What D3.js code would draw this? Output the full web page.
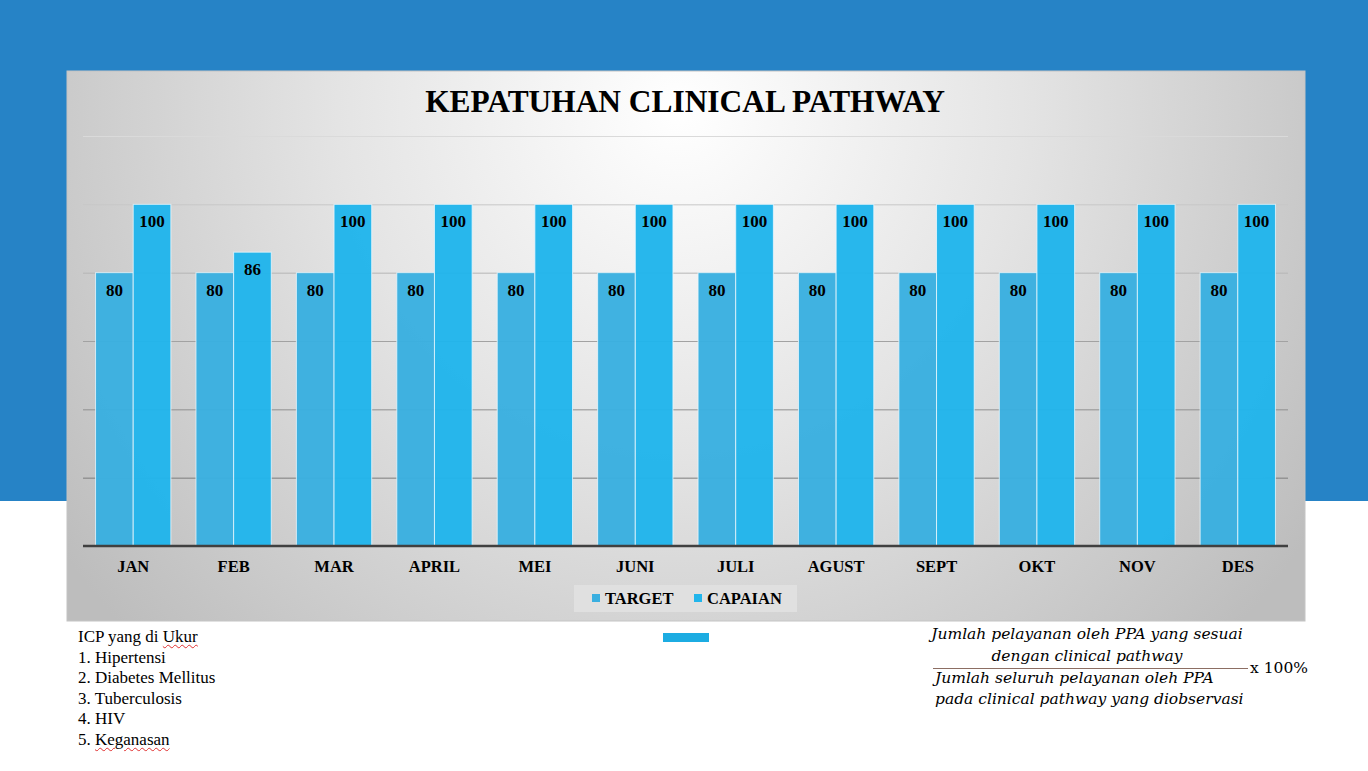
<!DOCTYPE html>
<html lang="en">
<head>
    <meta charset="UTF-8">
    <title>Kepatuhan Clinical Pathway</title>
    <script src="https://d3js.org/d3.v7.min.js"></script>
    <style>
        html, body { margin: 0; padding: 0; background: #fff; }
        body { width: 1368px; height: 771px; position: relative; overflow: hidden; }
        svg { position: absolute; left: 0; top: 0; }
        .serif { font-family: "Liberation Serif", "Times New Roman", serif; }
        .icp {
            position: absolute;
            left: 78px;
            top: 627px;
            font-family: "Liberation Serif", "Times New Roman", serif;
            font-size: 17px;
            line-height: 20.5px;
            color: #000;
        }
        .wavy {
            text-decoration: underline wavy #e03030;
            text-decoration-thickness: 1px;
            text-underline-offset: 2px;
        }
    </style>
</head>
<body>
    <div class="icp">
        ICP yang di <span class="wavy">Ukur</span><br>
        1. Hipertensi<br>
        2. Diabetes Mellitus<br>
        3. Tuberculosis<br>
        4. HIV<br>
        5. <span class="wavy">Keganasan</span>
    </div>
    <script>
        const width = 1368;
        const height = 771;

        // data
        const months = ["JAN", "FEB", "MAR", "APRIL", "MEI", "JUNI", "JULI", "AGUST", "SEPT", "OKT", "NOV", "DES"];
        const target = [80, 80, 80, 80, 80, 80, 80, 80, 80, 80, 80, 80];
        const capaian = [100, 86, 100, 100, 100, 100, 100, 100, 100, 100, 100, 100];
        const seriesNames = ["TARGET", "CAPAIAN"];
        const yTicks = [20, 40, 60, 80, 100, 120];

        const numerator = ["Jumlah pelayanan oleh PPA yang sesuai", "dengan clinical pathway"];
        const denominator = ["Jumlah seluruh pelayanan oleh PPA", "pada clinical pathway yang diobservasi"];

        const svg = d3.select("body").insert("svg", ":first-child")
            .attr("width", width)
            .attr("height", height);

        const defs = svg.append("defs");
        const grad = defs.append("radialGradient")
            .attr("id", "panelGrad")
            .attr("gradientUnits", "userSpaceOnUse")
            .attr("cx", 680).attr("cy", 110).attr("r", 760);
        grad.append("stop").attr("offset", "0%").attr("stop-color", "#ffffff");
        grad.append("stop").attr("offset", "45%").attr("stop-color", "#e4e4e4");
        grad.append("stop").attr("offset", "100%").attr("stop-color", "#bdbdbd");

        // blue slide background
        svg.append("rect")
            .attr("x", 0).attr("y", 0)
            .attr("width", width).attr("height", 501)
            .attr("fill", "#2683c6");

        // chart panel
        const panel = { x: 67, y: 71, w: 1238, h: 550 };
        svg.append("rect")
            .attr("x", panel.x).attr("y", panel.y)
            .attr("width", panel.w).attr("height", panel.h)
            .attr("fill", "url(#panelGrad)")
            .attr("stroke", "#c4c4c4")
            .attr("stroke-width", 1);

        const plot = { left: 83, right: 1288, top: 136, bottom: 546 };

        const x0 = d3.scaleBand()
            .domain(months)
            .range([plot.left, plot.right])
            .paddingInner(0.25)
            .paddingOuter(0.125);

        const x1 = d3.scaleBand()
            .domain(seriesNames)
            .range([0, x0.bandwidth()])
            .padding(0);

        const y = d3.scaleLinear()
            .domain([0, 120])
            .range([plot.bottom, plot.top]);

        const color = d3.scaleOrdinal()
            .domain(seriesNames)
            .range(["#3aafe0", "#21b5eb"]);

        const gridColor = d3.scaleLinear()
            .domain([20, 120])
            .range(["#7d7d7d", "#dadada"]);

        // gridlines
        svg.append("g")
            .selectAll("line")
            .data(yTicks)
            .join("line")
            .attr("x1", plot.left).attr("x2", plot.right)
            .attr("y1", d => y(d) + 0.5).attr("y2", d => y(d) + 0.5)
            .attr("stroke", d => gridColor(d))
            .attr("stroke-width", 1);

        // title
        svg.append("text")
            .attr("class", "serif")
            .attr("x", 685).attr("y", 112)
            .attr("text-anchor", "middle")
            .attr("font-size", 31.4)
            .attr("font-weight", "bold")
            .text("KEPATUHAN CLINICAL PATHWAY");

        const rows = months.map((m, i) => ({
            month: m,
            values: [
                { key: "TARGET", value: target[i] },
                { key: "CAPAIAN", value: capaian[i] }
            ]
        }));

        const groups = svg.append("g")
            .selectAll("g")
            .data(rows)
            .join("g")
            .attr("transform", d => `translate(${x0(d.month)},0)`);

        groups.selectAll("rect")
            .data(d => d.values)
            .join("rect")
            .attr("x", d => x1(d.key))
            .attr("y", d => y(d.value))
            .attr("width", x1.bandwidth())
            .attr("height", d => y(0) - y(d.value))
            .attr("fill", d => color(d.key))
            .attr("fill-opacity", 0.97)
            .attr("stroke", "#e8f6fc")
            .attr("stroke-opacity", 0.8)
            .attr("stroke-width", 1);

        groups.selectAll("text")
            .data(d => d.values)
            .join("text")
            .attr("class", "serif")
            .attr("x", d => x1(d.key) + x1.bandwidth() / 2)
            .attr("y", d => y(d.value) + 23)
            .attr("text-anchor", "middle")
            .attr("font-size", 17)
            .attr("font-weight", "bold")
            .attr("fill", "#000")
            .text(d => d.value);

        // baseline
        svg.append("line")
            .attr("x1", plot.left).attr("x2", plot.right)
            .attr("y1", y(0)).attr("y2", y(0))
            .attr("stroke", "#404040")
            .attr("stroke-width", 2.5);

        // x labels
        svg.append("g")
            .selectAll("text")
            .data(months)
            .join("text")
            .attr("class", "serif")
            .attr("x", d => x0(d) + x0.bandwidth() / 2)
            .attr("y", 572)
            .attr("text-anchor", "middle")
            .attr("font-size", 16.5)
            .attr("font-weight", "bold")
            .text(d => d);

        // legend
        const legend = svg.append("g");
        legend.append("rect")
            .attr("x", 574).attr("y", 585)
            .attr("width", 223).attr("height", 27)
            .attr("fill", "#e2e2e2")
            .attr("fill-opacity", 0.85);
        const legendX = [592, 694];
        seriesNames.forEach((s, i) => {
            legend.append("rect")
                .attr("x", legendX[i]).attr("y", 594)
                .attr("width", 8).attr("height", 8)
                .attr("fill", color(s));
            legend.append("text")
                .attr("class", "serif")
                .attr("x", legendX[i] + 13).attr("y", 604)
                .attr("font-size", 16.5)
                .attr("font-weight", "bold")
                .text(s);
        });

        // small blue strip under chart
        svg.append("rect")
            .attr("x", 663).attr("y", 633)
            .attr("width", 46).attr("height", 9)
            .attr("fill", "#1cace2");

        // formula
        const f = svg.append("g")
            .attr("font-family", "'DejaVu Serif', serif")
            .attr("font-style", "italic")
            .attr("font-size", 15.5);
        f.append("text")
            .attr("x", 1087).attr("y", 639)
            .attr("text-anchor", "middle")
            .text(numerator[0]);
        f.append("text")
            .attr("x", 1087).attr("y", 661)
            .attr("text-anchor", "middle")
            .text(numerator[1]);
        f.append("text")
            .attr("x", 935).attr("y", 683)
            .text(denominator[0]);
        f.append("text")
            .attr("x", 935).attr("y", 704)
            .text(denominator[1]);
        svg.append("line")
            .attr("x1", 933).attr("x2", 1248)
            .attr("y1", 668.5).attr("y2", 668.5)
            .attr("stroke", "#8c6e63")
            .attr("stroke-width", 1);
        svg.append("text")
            .attr("x", 1250).attr("y", 673)
            .attr("font-family", "'DejaVu Serif', serif")
            .attr("font-size", 15.5)
            .text("x 100%");
    </script>
</body>
</html>
